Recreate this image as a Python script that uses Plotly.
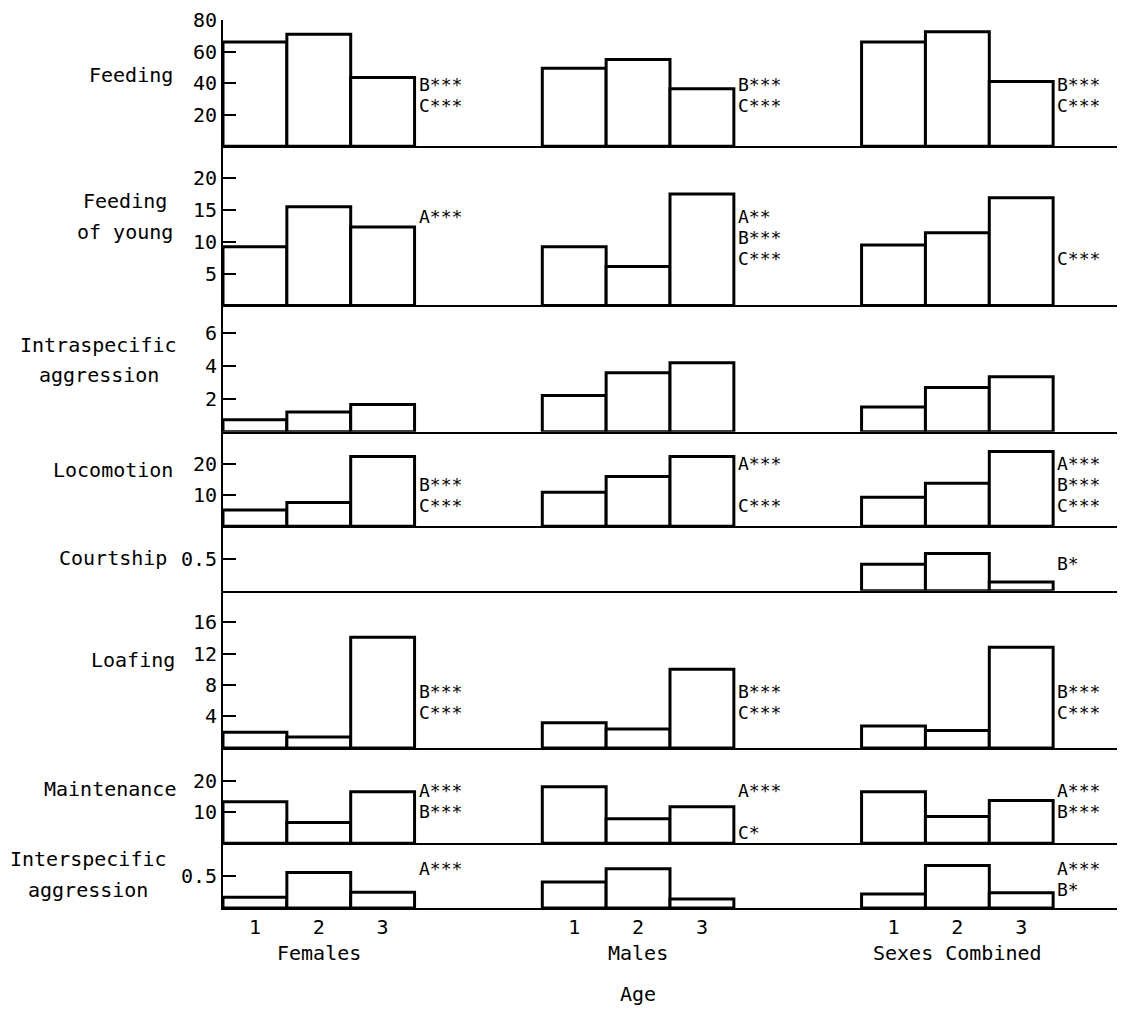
import plotly.graph_objects as go

# ---------------- data ----------------
ages = ["1", "2", "3"]
groups = ["Females", "Males", "Sexes Combined"]
behaviors = ["Feeding", "Feeding of young", "Intraspecific aggression", "Locomotion",
             "Courtship", "Loafing", "Maintenance", "Interspecific aggression"]
behavior_lines = [["Feeding"], ["Feeding", "of young"], ["Intraspecific", "aggression"],
                  ["Locomotion"], ["Courtship"], ["Loafing"], ["Maintenance"],
                  ["Interspecific", "aggression"]]

# values per group: [Females, Males, Sexes Combined], each for ages 1,2,3
feeding = [[66, 71, 43.5], [49.5, 55, 36.5], [66, 72.5, 41]]
feeding_young = [[9.2, 15.5, 12.3], [9.2, 6.1, 17.5], [9.5, 11.4, 16.9]]
intra_aggr = [[0.73, 1.2, 1.65], [2.2, 3.6, 4.2], [1.5, 2.7, 3.35]]
locomotion = [[5.2, 7.7, 22.6], [11, 16.1, 22.6], [9.4, 13.9, 24.2]]
courtship = [[None, None, None], [None, None, None], [0.42, 0.59, 0.14]]
loafing = [[2.0, 1.4, 14.1], [3.2, 2.4, 10.0], [2.8, 2.2, 12.8]]
maintenance = [[13.3, 6.7, 16.5], [18.1, 7.9, 11.7], [16.5, 8.6, 13.7]]
inter_aggr = [[0.17, 0.56, 0.25], [0.41, 0.62, 0.14], [0.22, 0.67, 0.24]]
all_values = [feeding, feeding_young, intra_aggr, locomotion, courtship, loafing,
              maintenance, inter_aggr]

# significance labels (slots A, B, C) per group
sig_feeding = [["", "B***", "C***"], ["", "B***", "C***"], ["", "B***", "C***"]]
sig_feeding_young = [["A***", "", ""], ["A**", "B***", "C***"], ["", "", "C***"]]
sig_intra = [["", "", ""], ["", "", ""], ["", "", ""]]
sig_locomotion = [["", "B***", "C***"], ["A***", "", "C***"], ["A***", "B***", "C***"]]
sig_courtship = [["", "", ""], ["", "", ""], ["", "B*", ""]]
sig_loafing = [["", "B***", "C***"], ["", "B***", "C***"], ["", "B***", "C***"]]
sig_maintenance = [["A***", "B***", ""], ["A***", "", "C*"], ["A***", "B***", ""]]
sig_inter = [["A***", "", ""], ["", "", ""], ["A***", "B*", ""]]
all_sig = [sig_feeding, sig_feeding_young, sig_intra, sig_locomotion, sig_courtship,
           sig_loafing, sig_maintenance, sig_inter]

y_ranges = [[0, 80], [0, 25], [0, 7.7], [0, 30.6], [0, 1.02], [0, 20], [0, 30.5], [0, 1.02]]
y_ticks = [[20, 40, 60, 80], [5, 10, 15, 20], [2, 4, 6], [10, 20], [0.5],
           [4, 8, 12, 16], [10, 20], [0.5]]
x_axis_title = "Age"

# ---------------- layout helpers (pixels) ----------------
W, H = 1125, 1010
PLOT_TOP, PLOT_BOTTOM = 15, 908
PLOT_LEFT, PLOT_RIGHT = 223, 1117
row_bounds_px = [15, 142, 302, 429, 524, 589, 747, 843, 908]
group_start = [0, 5, 10]
x_range = [0, 14]

sig_slotA_px = [59, 213, 0, 461, 541, 669, 790, 868]
sig_step_px = 21
label_center_px = [131, 125, 99, 113, 113, 133, 110, 88]
label_y_px = [70, 213, 357, 468, 556, 659, 788, 874]
label_line_px = 31

FONT = "DejaVu Sans Mono"
FS = 20
FS_SIG = 18


def ypaper(px):
    return (PLOT_BOTTOM - px) / (PLOT_BOTTOM - PLOT_TOP)


def xpaper(px):
    return (px - PLOT_LEFT) / (PLOT_RIGHT - PLOT_LEFT)


fig = go.Figure()
annotations = []
n = len(behaviors)
for r in range(n):
    ax = "" if r == 0 else str(r + 1)
    xs, ys = [], []
    for g in range(3):
        for a in range(3):
            xs.append(group_start[g] + a + 0.5)
            ys.append(all_values[r][g][a])
    fig.add_trace(go.Bar(
        x=xs, y=ys, width=1.0, xaxis="x" + ax, yaxis="y" + ax,
        marker=dict(color="white", line=dict(color="black", width=3)),
        showlegend=False, hoverinfo="skip"))

    dom = [ypaper(row_bounds_px[r + 1]), ypaper(row_bounds_px[r])]
    last = (r == n - 1)
    tickvals, ticktext = [], []
    for g in range(3):
        for a in range(3):
            tickvals.append(group_start[g] + a + 0.5)
            ticktext.append(ages[a])
    fig.update_layout(**{
        "xaxis" + ax: dict(domain=[0, 1], anchor="y" + ax, range=x_range,
                           showline=True, linecolor="black", linewidth=2,
                           showgrid=False, zeroline=False, ticks="",
                           showticklabels=last, tickvals=tickvals, ticktext=ticktext,
                           tickfont=dict(family=FONT, size=FS, color="black")),
        "yaxis" + ax: dict(domain=dom, anchor="x" + ax, range=y_ranges[r],
                           tickvals=y_ticks[r], ticks="inside", ticklen=13,
                           tickwidth=2, tickcolor="black",
                           showline=True, linecolor="black", linewidth=2,
                           showgrid=False, zeroline=False,
                           tickfont=dict(family=FONT, size=FS, color="black")),
    })

    # significance annotations
    for g in range(3):
        for s, txt in enumerate(all_sig[r][g]):
            if not txt:
                continue
            annotations.append(dict(
                x=group_start[g] + 3, xref="x" + ax,
                y=ypaper(sig_slotA_px[r] + s * sig_step_px), yref="paper",
                text=txt, showarrow=False, xanchor="left", yanchor="middle",
                xshift=3, borderpad=0,
                font=dict(family=FONT, size=FS_SIG, color="black")))

    # row labels
    lines = behavior_lines[r]
    k = len(lines)
    for i, line in enumerate(lines):
        ypx = label_y_px[r] + (i - (k - 1) / 2) * label_line_px
        annotations.append(dict(
            x=xpaper(label_center_px[r]), xref="paper", y=ypaper(ypx), yref="paper",
            text=line, showarrow=False, xanchor="center", yanchor="middle",
            font=dict(family=FONT, size=FS, color="black")))

last_ax = "x" + str(n)
for g in range(3):
    annotations.append(dict(
        x=group_start[g] + 1.5, xref=last_ax, y=ypaper(953), yref="paper",
        text=groups[g], showarrow=False, xanchor="center", yanchor="middle",
        font=dict(family=FONT, size=FS, color="black")))
annotations.append(dict(
    x=group_start[1] + 1.5, xref=last_ax, y=ypaper(994), yref="paper",
    text=x_axis_title, showarrow=False, xanchor="center", yanchor="middle",
    font=dict(family=FONT, size=FS, color="black")))

fig.update_layout(
    width=W, height=H,
    margin=dict(l=PLOT_LEFT, r=W - PLOT_RIGHT, t=PLOT_TOP, b=H - PLOT_BOTTOM),
    paper_bgcolor="white", plot_bgcolor="white",
    barmode="overlay", showlegend=False, hovermode=False,
    annotations=annotations,
    font=dict(family=FONT, size=FS, color="black"),
)

fig.write_html("out.html",
               config={"displayModeBar": False, "staticPlot": True},
               post_script="document.body.style.margin='0';document.body.style.overflow='hidden';")
